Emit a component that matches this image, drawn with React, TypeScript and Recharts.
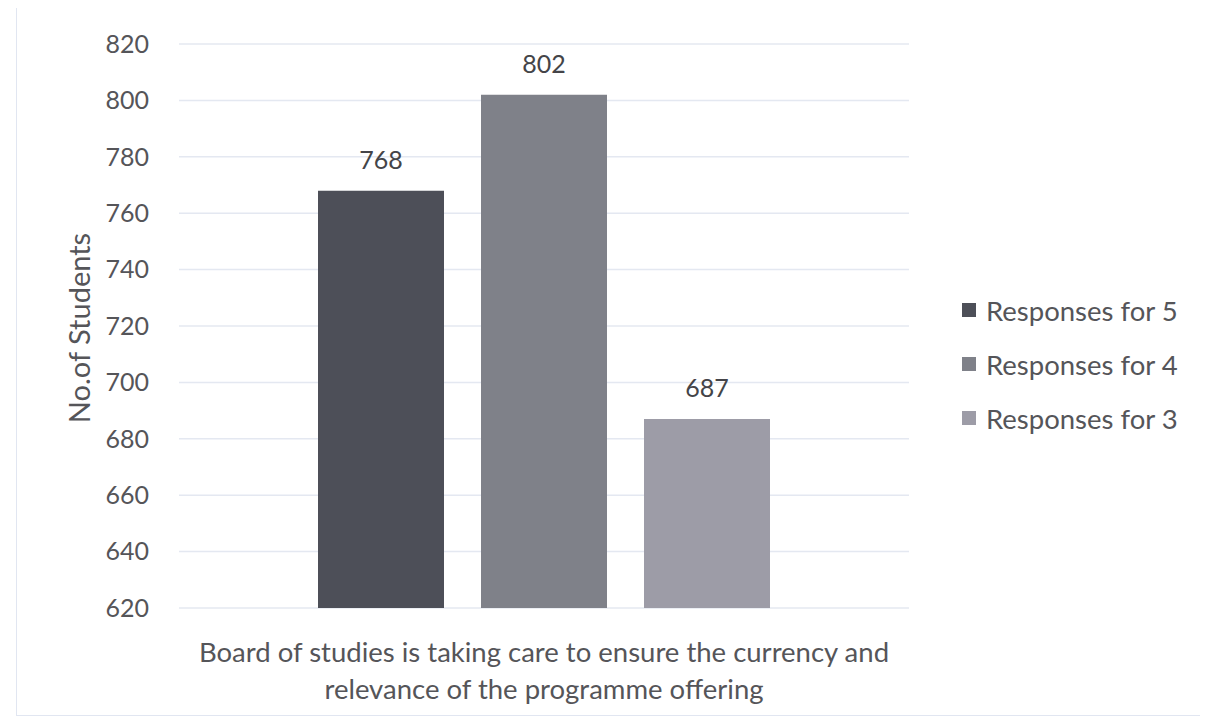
import React from "react";
import {
  BarChart,
  Bar,
  XAxis,
  YAxis,
  CartesianGrid,
  Legend,
  LabelList,
} from "recharts";

const categories = [
  "Board of studies is taking care to ensure the currency and relevance of the programme offering",
];
const categoryLines = [
  "Board of studies is taking care to ensure the currency and",
  "relevance of the programme offering",
];
const responses5 = [768];
const responses4 = [802];
const responses3 = [687];
const seriesNames = ["Responses for 5", "Responses for 4", "Responses for 3"];
const yTicks = [620, 640, 660, 680, 700, 720, 740, 760, 780, 800, 820];

const colors = ["#4d4f58", "#7f8189", "#9d9ca7"];
const textColor = "#555559";
const font = "Lato, 'Open Sans', sans-serif";

const data = categories.map((c, i) => ({
  name: c,
  r5: responses5[i],
  r4: responses4[i],
  r3: responses3[i],
}));

function CategoryTick({ x, y }: any) {
  return (
    <text x={x} y={y} textAnchor="middle" fill={textColor} fontSize={27.5} fontFamily={font}>
      {categoryLines.map((line, i) => (
        <tspan key={i} x={x} dy={i === 0 ? 46 : 37}>
          {line}
        </tspan>
      ))}
    </text>
  );
}

function AxisTitle({ viewBox }: any) {
  const cx = viewBox.x + 17;
  const cy = viewBox.y + viewBox.height / 2 + 2;
  return (
    <text
      x={cx}
      y={cy}
      transform={`rotate(-90 ${cx} ${cy})`}
      textAnchor="middle"
      dominantBaseline="central"
      fill={textColor}
      fontSize={29}
      fontFamily={font}
    >
      No.of Students
    </text>
  );
}

function LegendBox() {
  return (
    <div style={{ fontFamily: font }}>
      {seriesNames.map((n, i) => (
        <div
          key={n}
          style={{ display: "flex", alignItems: "center", height: 54 }}
        >
          <span
            style={{
              width: 14,
              height: 14,
              background: colors[i],
              marginRight: 10,
              display: "inline-block",
            }}
          />
          <span style={{ fontSize: 27.5, color: textColor }}>{n}</span>
        </div>
      ))}
    </div>
  );
}

export default function App() {
  return (
    <div style={{ position: "relative", width: 1208, height: 727, margin: -8, background: "#fff" }}>
      <div
        style={{
          position: "absolute",
          left: 16,
          top: 7,
          width: 1186,
          height: 707,
          border: "1px solid #e1e6f1",
          pointerEvents: "none",
        }}
      />
      <BarChart
        width={1208}
        height={727}
        data={data}
        margin={{ top: 44, right: 299, bottom: 89, left: 61 }}
        barCategoryGap={139}
        barGap={37}
        style={{ fontFamily: font }}
      >
        <CartesianGrid vertical={false} stroke="#e4e8f1" strokeWidth={1.5} />
        <XAxis
          dataKey="name"
          axisLine={false}
          tickLine={false}
          tick={<CategoryTick />}
          interval={0}
        />
        <YAxis
          width={118}
          domain={[620, 820]}
          ticks={yTicks}
          axisLine={false}
          tickLine={false}
          tickSize={6}
          tickMargin={24}
          tick={{ fontSize: 25, fill: textColor, fontFamily: font }}
          label={<AxisTitle />}
        />
        <Legend
          layout="horizontal"
          align="center"
          verticalAlign="middle"
          content={<LegendBox />}
          wrapperStyle={{ left: 962, top: 283, width: 240, height: 162 }}
        />
        <Bar dataKey="r5" name={seriesNames[0]} fill={colors[0]} barSize={126} isAnimationActive={false}>
          <LabelList dataKey="r5" position="top" offset={22} fill="#444448" fontSize={25} fontFamily={font} />
        </Bar>
        <Bar dataKey="r4" name={seriesNames[1]} fill={colors[1]} barSize={126} isAnimationActive={false}>
          <LabelList dataKey="r4" position="top" offset={22} fill="#444448" fontSize={25} fontFamily={font} />
        </Bar>
        <Bar dataKey="r3" name={seriesNames[2]} fill={colors[2]} barSize={126} isAnimationActive={false}>
          <LabelList dataKey="r3" position="top" offset={22} fill="#444448" fontSize={25} fontFamily={font} />
        </Bar>
      </BarChart>
    </div>
  );
}
